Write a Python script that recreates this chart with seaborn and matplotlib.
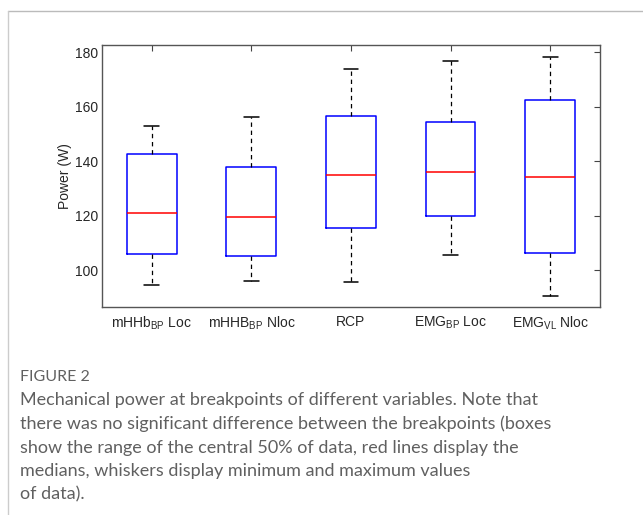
import numpy as np
import pandas as pd
import matplotlib.pyplot as plt
import seaborn as sns
from matplotlib.lines import Line2D

# values (min, Q1, median, Q3, max per breakpoint)
labels = ["mHHb$_{BP}$ Loc", "mHHB$_{BP}$ Nloc", "RCP", "EMG$_{BP}$ Loc", "EMG$_{VL}$ Nloc"]
minimum = [94.6, 96.0, 95.5, 105.4, 90.6]
q1 = [106.1, 105.3, 115.4, 119.9, 106.3]
median = [120.9, 119.7, 135.1, 136.0, 134.1]
q3 = [142.6, 137.8, 156.5, 154.3, 162.4]
maximum = [153.0, 156.3, 173.9, 176.8, 178.2]
yticks = [100, 120, 140, 160, 180]

caption_title = "FIGURE 2"
caption = ("Mechanical power at breakpoints of different variables. Note that\n"
           "there was no significant difference between the breakpoints (boxes\n"
           "show the range of the central 50% of data, red lines display the\n"
           "medians, whiskers display minimum and maximum values\n"
           "of data).")

# five points per group -> quartiles land exactly on the read values
rows = []
for i, lab in enumerate(labels):
    for v in (minimum[i], q1[i], median[i], q3[i], maximum[i]):
        rows.append({"var": lab, "power": v})
df = pd.DataFrame(rows)

sns.set_style("white")
plt.rcParams["font.family"] = ["Liberation Sans", "DejaVu Sans"]
plt.rcParams["mathtext.fontset"] = "custom"
plt.rcParams["mathtext.rm"] = "Liberation Sans"
plt.rcParams["mathtext.it"] = "Liberation Sans"

fig = plt.figure(figsize=(6.43, 5.15), dpi=100)
ax = fig.add_axes([0.1586, 0.4045, 0.7745, 0.5082])

sns.boxplot(data=df, x="var", y="power", order=labels, whis=(0, 100),
            width=0.5, fill=False, color="blue", linewidth=1.1,
            showfliers=False,
            boxprops=dict(color="blue"),
            medianprops=dict(color="red"),
            whiskerprops=dict(color="black", linestyle=(0, (3.5, 3)), linewidth=0.9),
            capprops=dict(color="black", linewidth=1.1),
            ax=ax)

# narrower caps, like MATLAB's
for ln in ax.lines:
    xd, yd = np.asarray(ln.get_xdata(), float), np.asarray(ln.get_ydata(), float)
    if len(xd) == 2 and yd[0] == yd[1] and ln.get_color() in ("black", "k"):
        c = xd.mean()
        ln.set_xdata([c - 0.075, c + 0.075])

ax.set_xlim(-0.5, len(labels) - 0.5)
ax.set_ylim(86.6, 182.7)
ax.set_yticks(yticks)
ax.set_xlabel("")
ax.set_ylabel("Power (W)", fontsize=10, labelpad=1.5)
ax.tick_params(direction="in", top=True, right=True, length=4, width=0.8,
               color="#444444", labelsize=10, pad=3)
ax.tick_params(axis="x", pad=6)
for s in ax.spines.values():
    s.set_color("#555555")
    s.set_linewidth(1.0)

# page frame lines
fig.add_artist(Line2D([8 / 643, 1], [1 - 11 / 515] * 2, color="#bbbbbb", lw=1))
fig.add_artist(Line2D([8 / 643] * 2, [0, 1 - 11 / 515], color="#cccccc", lw=1))

fig.text(20 / 643, 1 - 377 / 515, caption_title, color="#606060", fontsize=11.5,
         family=["Lato", "DejaVu Sans"], va="center")
fig.text(20 / 643, 1 - 392 / 515, caption, color="#606060", fontsize=13,
         family=["Lato", "DejaVu Sans"], va="top", linespacing=1.57)

fig.savefig("out.png", dpi=100)
